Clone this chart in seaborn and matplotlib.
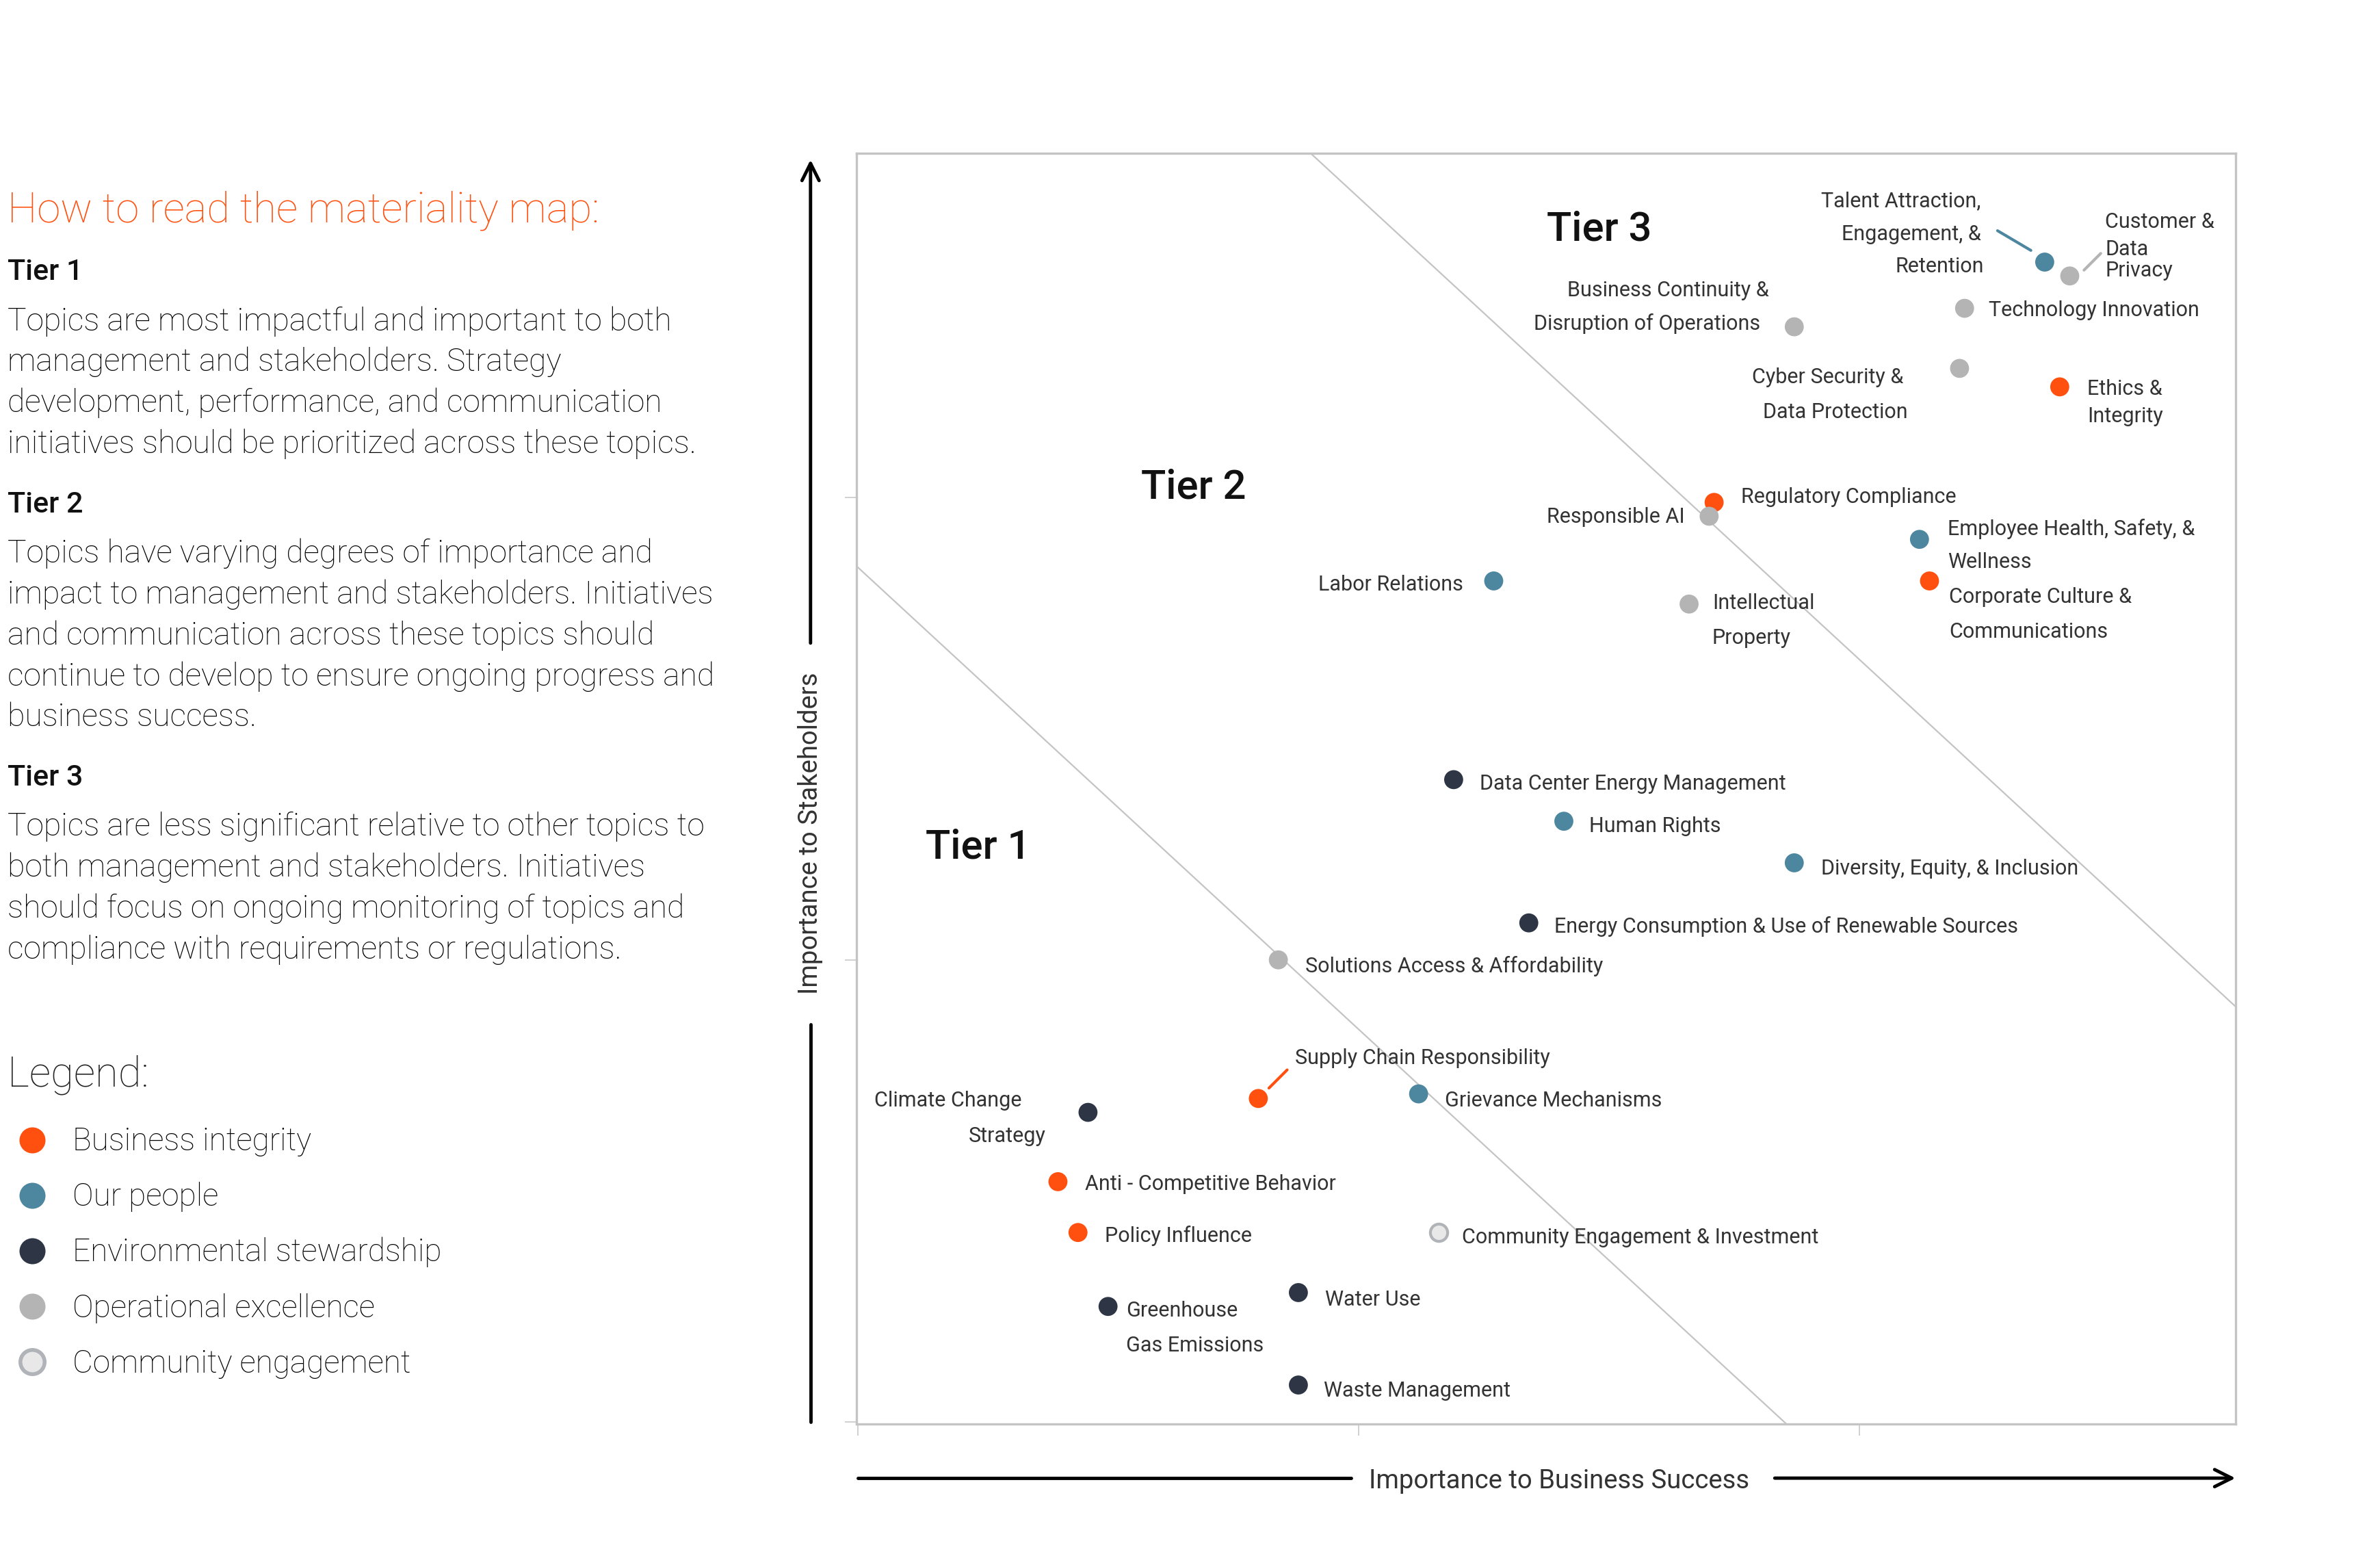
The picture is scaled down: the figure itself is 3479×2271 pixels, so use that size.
import matplotlib
matplotlib.use("Agg")
import matplotlib.pyplot as plt
import pandas as pd
import seaborn as sns

# ── Data ───────────────────────────────────────────────────────
topics = [
    "Talent Attraction, Engagement, & Retention",
    "Customer & Data Privacy",
    "Technology Innovation",
    "Business Continuity & Disruption of Operations",
    "Cyber Security & Data Protection",
    "Ethics & Integrity",
    "Regulatory Compliance",
    "Responsible AI",
    "Employee Health, Safety, & Wellness",
    "Corporate Culture & Communications",
    "Labor Relations",
    "Intellectual Property",
    "Data Center Energy Management",
    "Human Rights",
    "Diversity, Equity, & Inclusion",
    "Energy Consumption & Use of Renewable Sources",
    "Solutions Access & Affordability",
    "Supply Chain Responsibility",
    "Grievance Mechanisms",
    "Climate Change Strategy",
    "Anti - Competitive Behavior",
    "Policy Influence",
    "Community Engagement & Investment",
    "Water Use",
    "Greenhouse Gas Emissions",
    "Waste Management",
]
business_success = [2.37, 2.42, 2.21, 1.87, 2.20, 2.40, 1.71, 1.70, 2.12, 2.14, 1.27, 1.66, 1.19,
                    1.41, 1.87, 1.34, 0.84, 0.80, 1.12, 0.46, 0.40, 0.44, 1.16, 0.88, 0.50, 0.88]
stakeholders = [2.51, 2.48, 2.41, 2.37, 2.28, 2.24, 1.99, 1.96, 1.91, 1.82, 1.82, 1.77, 1.39,
                1.30, 1.21, 1.08, 1.00, 0.70, 0.71, 0.67, 0.52, 0.41, 0.41, 0.28, 0.25, 0.08]
groups = [
    "Our people", "Operational excellence", "Operational excellence", "Operational excellence",
    "Operational excellence", "Business integrity", "Business integrity", "Operational excellence",
    "Our people", "Business integrity", "Our people", "Operational excellence",
    "Environmental stewardship", "Our people", "Our people", "Environmental stewardship",
    "Operational excellence", "Business integrity", "Our people", "Environmental stewardship",
    "Business integrity", "Business integrity", "Community engagement", "Environmental stewardship",
    "Environmental stewardship", "Environmental stewardship",
]
group_order = ["Business integrity", "Our people", "Environmental stewardship",
               "Operational excellence", "Community engagement"]
tier_cuts = [1.85, 3.65]  # x + y boundaries between tiers
tier_names = ["Tier 1", "Tier 2", "Tier 3"]

tier_text = [
    ("Tier 1", ["Topics are most impactful and important to both",
                "management and stakeholders. Strategy",
                "development, performance, and communication",
                "initiatives should be prioritized across these topics."]),
    ("Tier 2", ["Topics have varying degrees of importance and",
                "impact to management and stakeholders. Initiatives",
                "and communication across these topics should",
                "continue to develop to ensure ongoing progress and",
                "business success."]),
    ("Tier 3", ["Topics are less significant relative to other topics to",
                "both management and stakeholders. Initiatives",
                "should focus on ongoing monitoring of topics and",
                "compliance with requirements or regulations."]),
]

palette = {
    "Business integrity": "#FF5010",
    "Our people": "#4C869F",
    "Environmental stewardship": "#2E3645",
    "Operational excellence": "#B4B4B4",
    "Community engagement": "#E8E8E8",
}
TEXT = "#333333"

# ── Layout (reference grid of 1568 x 1024) ─────────────────────
W, H = 1568, 1024
AX_L, AX_R, AX_T, AX_B = 564.5, 1473, 101, 938.5


def dx(px):
    return (px - 565) / 330


def dy(py):
    return (937 - py) / 304.5


# label lines: text, x, y (visual centre), alignment
label_lines = [
    ("Talent Attraction,", 1305, 131, "right"),
    ("Engagement, &", 1305, 153, "right"),
    ("Retention", 1307, 174, "right"),
    ("Customer &", 1387, 145, "left"),
    ("Data", 1387, 163, "left"),
    ("Privacy", 1387, 177, "left"),
    ("Technology Innovation", 1310, 203, "left"),
    ("Business Continuity &", 1099, 190, "center"),
    ("Disruption of Operations", 1085, 212, "center"),
    ("Cyber Security &", 1204, 247, "center"),
    ("Data Protection", 1209, 270, "center"),
    ("Ethics &", 1375, 255, "left"),
    ("Integrity", 1375, 273, "left"),
    ("Regulatory Compliance", 1147, 326, "left"),
    ("Responsible AI", 1110, 339, "right"),
    ("Employee Health, Safety, &", 1283, 347, "left"),
    ("Wellness", 1283, 369, "left"),
    ("Corporate Culture &", 1284, 392, "left"),
    ("Communications", 1284, 415, "left"),
    ("Labor Relations", 964, 384, "right"),
    ("Intellectual", 1128, 396, "left"),
    ("Property", 1128, 419, "left"),
    ("Data Center Energy Management", 975, 515, "left"),
    ("Human Rights", 1047, 543, "left"),
    ("Diversity, Equity, & Inclusion", 1200, 571, "left"),
    ("Energy Consumption & Use of Renewable Sources", 1024, 609, "left"),
    ("Solutions Access & Affordability", 860, 635, "left"),
    ("Supply Chain Responsibility", 853, 696, "left"),
    ("Grievance Mechanisms", 952, 724, "left"),
    ("Climate Change", 673, 724, "right"),
    ("Strategy", 689, 747, "right"),
    ("Anti - Competitive Behavior", 715, 779, "left"),
    ("Policy Influence", 728, 813, "left"),
    ("Community Engagement & Investment", 963, 814, "left"),
    ("Water Use", 873, 855, "left"),
    ("Greenhouse", 742, 862, "left"),
    ("Gas Emissions", 742, 885, "left"),
    ("Waste Management", 872, 915, "left"),
]
leaders = [((1316, 152), (1338, 165), "Our people"),
           ((1384, 167), (1373, 178), "Operational excellence"),
           ((848, 705), (836, 717), "Business integrity")]
tier_pos = [(610, 556), (752, 319), (1019, 149)]

# ── Plot ───────────────────────────────────────────────────────
sns.set_theme(style="white")
plt.rcParams["font.family"] = ["Roboto", "DejaVu Sans"]

df = pd.DataFrame({"topic": topics, "x": business_success, "y": stakeholders, "group": groups})

fig = plt.figure(figsize=(34.79, 22.71), dpi=100)
fig.patch.set_facecolor("white")

# overlay for the explanatory panel, legend and axis arrows
ov = fig.add_axes([0, 0, 1, 1])
ov.set_xlim(0, W)
ov.set_ylim(H, 0)
ov.axis("off")

ax = fig.add_axes([AX_L / W, 1 - AX_B / H, (AX_R - AX_L) / W, (AX_B - AX_T) / H])
ax.set_facecolor("none")

# tier boundaries
for c in tier_cuts:
    ax.plot([-1, c + 1], [c + 1, -1], color="#C4C4C4", lw=1.6, zorder=1)

main = df[df["group"] != "Community engagement"]
sns.scatterplot(data=main, x="x", y="y", hue="group", palette=palette, s=400,
                linewidth=0, legend=False, ax=ax, zorder=3)
comm = df[df["group"] == "Community engagement"]
sns.scatterplot(data=comm, x="x", y="y", color=palette["Community engagement"], s=330,
                edgecolor="#B0B3B8", linewidth=3, legend=False, ax=ax, zorder=3)

# va="center" sits a touch high for the visual centre, hence the small nudge
for txt, px, py, ha in label_lines:
    ax.text(dx(px), dy(py + 1.5), txt, ha=ha, va="center", fontsize=22, color=TEXT, zorder=4)

for (x0, y0), (x1, y1), g in leaders:
    ax.plot([dx(x0), dx(x1)], [dy(y0), dy(y1)], color=palette[g], lw=3, zorder=2)

for name, (px, py) in zip(tier_names, tier_pos):
    ax.text(dx(px), dy(py + 2), name, ha="left", va="center", fontsize=43,
            fontweight="medium", color="#111111", zorder=4)

ax.set_xlim(dx(AX_L), dx(AX_R))
ax.set_ylim(dy(AX_B), dy(AX_T))
ax.set_xticks([0, 1, 2])
ax.set_yticks([0, 1, 2])
ax.set_xticklabels([])
ax.set_yticklabels([])
ax.set_xlabel("")
ax.set_ylabel("")
ax.tick_params(length=12, width=1.2, color="#C8C8C8", direction="out", bottom=True, left=True)
for side, sp in ax.spines.items():
    sp.set_color("#C4C4C4")
    sp.set_linewidth(2.4)

# axis arrows with titles
ov.plot([534, 534], [937, 675], color="black", lw=3.5)
ov.annotate("", xy=(534, 104), xytext=(534, 425),
            arrowprops=dict(arrowstyle="->", lw=3.5, color="black", mutation_scale=45))
ov.text(534, 549, "Importance to Stakeholders", rotation=90, ha="center", va="center",
        fontsize=27.5, color=TEXT)
ov.plot([565, 890], [974, 974], color="black", lw=3.5)
ov.annotate("", xy=(1474, 974), xytext=(1168, 974),
            arrowprops=dict(arrowstyle="->", lw=3.5, color="black", mutation_scale=45))
ov.text(1027, 976, "Importance to Business Success", ha="center", va="center",
        fontsize=27.5, color=TEXT)

# explanatory panel
ov.text(5, 146.5, "How to read the materiality map:", fontsize=44.5, fontweight="light",
        color="#FF5010", va="baseline")
y = 184.6
for head, lines in tier_text:
    ov.text(5, y, head, fontsize=31, fontweight="medium", color="#111111", va="baseline")
    y += 33
    for line in lines:
        ov.text(5, y, line, fontsize=33.3, fontweight="light", color="black", va="baseline")
        y += 27
    y += 12

# legend
ov.text(5, 716, "Legend:", fontsize=44.5, fontweight="light", color="#222222", va="baseline")
for i, g in enumerate(group_order):
    yy = 751 + i * 36.6
    if g == "Community engagement":
        ov.scatter([21], [yy], s=650, color=palette[g], edgecolor="#B0B3B8", linewidth=4)
    else:
        ov.scatter([21], [yy], s=750, color=palette[g], linewidth=0)
    ov.text(48, yy + 7, g, fontsize=33, fontweight="light", color="black", va="baseline")

fig.savefig("out.png", dpi=100, facecolor="white")
